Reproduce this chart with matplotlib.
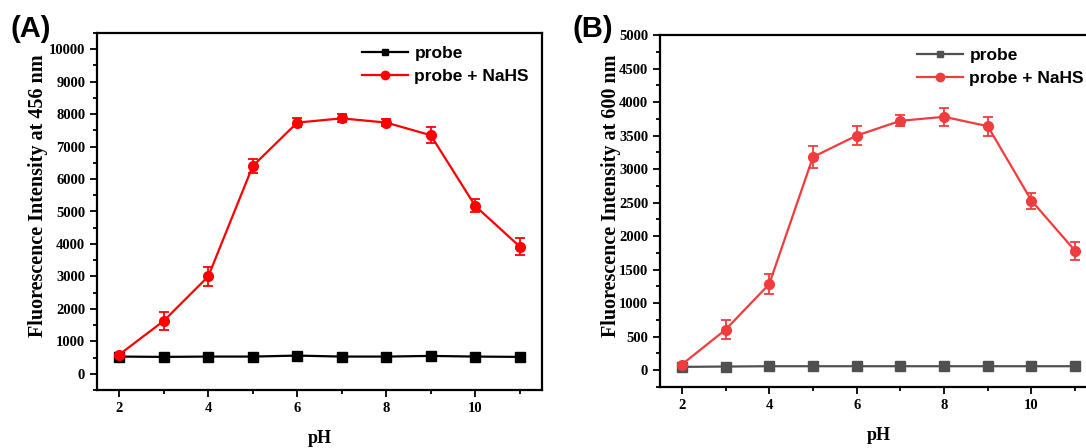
import matplotlib.pyplot as plt
from matplotlib.lines import Line2D
from matplotlib.ticker import MultipleLocator

# pH values shared by both panels
ph = [2, 3, 4, 5, 6, 7, 8, 9, 10, 11]

# panel A: emission at 456 nm
a_probe = [530, 520, 530, 530, 560, 530, 530, 550, 530, 520]
a_probe_err = [40, 40, 40, 40, 40, 40, 40, 40, 40, 40]
a_nahs = [590, 1630, 3000, 6400, 7740, 7870, 7740, 7350, 5170, 3920]
a_nahs_err = [60, 270, 300, 220, 150, 120, 110, 250, 200, 250]

# panel B: emission at 600 nm
b_probe = [50, 55, 60, 60, 60, 60, 60, 60, 60, 60]
b_probe_err = [15, 15, 15, 15, 15, 15, 15, 15, 15, 15]
b_nahs = [85, 605, 1285, 3180, 3500, 3720, 3780, 3640, 2530, 1780]
b_nahs_err = [30, 140, 150, 170, 140, 80, 130, 140, 120, 130]

W, H = 1086, 448
fig = plt.figure(figsize=(W / 100, H / 100), dpi=100)

serif = ['Liberation Serif', 'DejaVu Serif']
sans = ['Liberation Sans', 'DejaVu Sans']


def panel(rect, probe, probe_err, nahs, nahs_err, c_probe, c_nahs,
          ylim, ymaj, ymin, ylabel, label_x, tag):
    l, r, t, b = rect
    ax = fig.add_axes([l / W, 1 - b / H, (r - l) / W, (b - t) / H])
    ax.errorbar(ph, probe, yerr=probe_err, color=c_probe, marker='s', ms=6.5,
                lw=1.6, capsize=3.5, elinewidth=1.2)
    ax.errorbar(ph, nahs, yerr=nahs_err, color=c_nahs, marker='o', ms=7,
                lw=1.6, capsize=3.5, elinewidth=1.3, capthick=1.3)
    ax.set_xlim(1.5, 11.5)
    ax.set_ylim(*ylim)
    ax.xaxis.set_major_locator(MultipleLocator(2))
    ax.xaxis.set_minor_locator(MultipleLocator(1))
    ax.yaxis.set_major_locator(MultipleLocator(ymaj))
    ax.yaxis.set_minor_locator(MultipleLocator(ymin))
    ax.tick_params(which='both', direction='out', width=1.3)
    ax.tick_params(which='major', length=5)
    ax.tick_params(which='minor', length=3)
    for s in ax.spines.values():
        s.set_linewidth(1.6)
    for lab in ax.get_xticklabels() + ax.get_yticklabels():
        lab.set_family(serif)
        lab.set_fontweight('bold')
        lab.set_fontsize(10.5)
    ax.set_xlabel('pH', family=serif, fontweight='bold', fontsize=13,
                  labelpad=11)
    ax.set_ylabel(ylabel, family=serif, fontweight='bold', fontsize=14.5)
    ax.yaxis.set_label_coords((label_x - l) / (r - l), (b - 196) / (b - t))
    handles = [
        Line2D([], [], color=c_probe, marker='s', ms=5, lw=1.6),
        Line2D([], [], color=c_nahs, marker='o', ms=6, lw=1.6),
    ]
    ax.legend(handles, ['probe', 'probe + NaHS'], loc='upper right',
              frameon=False, handlelength=2.6, handletextpad=0.4,
              labelspacing=0.45, borderaxespad=0.35,
              prop={'family': sans, 'weight': 'bold', 'size': 12.5})
    fig.text((l - 87) / W, 1 - 15 / H, tag, family=sans, fontweight='bold',
             fontsize=21, va='top', ha='left')
    return ax


panel((97, 542, 33, 390), a_probe, a_probe_err, a_nahs, a_nahs_err,
      'black', '#ff0000', (-500, 10500), 1000, 500,
      'Fluorescence Intensity at 456 nm', 48, '(A)')
panel((660, 1097, 35, 387), b_probe, b_probe_err, b_nahs, b_nahs_err,
      '#505050', '#f03c3c', (-250, 5000), 500, 250,
      'Fluorescence Intensity at 600 nm', 621, '(B)')

fig.savefig('out.png', dpi=100)
